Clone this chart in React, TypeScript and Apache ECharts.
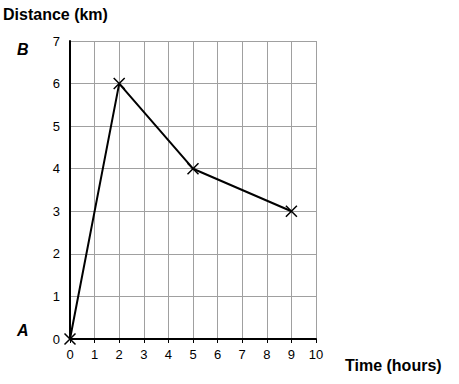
import React, { useEffect, useRef } from "react";
import * as echarts from "echarts";

const timeHours = [0, 2, 5, 9];
const distanceKm = [0, 6, 4, 3];
const xTicks = [0, 1, 2, 3, 4, 5, 6, 7, 8, 9, 10];
const yTicks = [0, 1, 2, 3, 4, 5, 6, 7];

export default function App() {
  const ref = useRef<HTMLDivElement>(null);
  useEffect(() => {
    if (!ref.current) return;
    const chart = echarts.init(ref.current, null, { renderer: "svg" });
    const font = "'Liberation Sans', Arial, sans-serif";
    chart.setOption({
      animation: false,
      backgroundColor: "#ffffff",
      grid: { left: 70, top: 41, right: 143, bottom: 45, containLabel: false },
      xAxis: {
        type: "value",
        min: 0,
        max: xTicks[xTicks.length - 1],
        interval: 1,
        axisLine: { show: true, lineStyle: { color: "#000", width: 2 } },
        axisTick: { show: true, length: 4, lineStyle: { color: "#000", width: 1 } },
        axisLabel: { color: "#000", fontSize: 13, fontFamily: font, margin: 9 },
        splitLine: { show: true, lineStyle: { color: "#a0a0a0", width: 1 } },
      },
      yAxis: {
        type: "value",
        min: 0,
        max: yTicks[yTicks.length - 1],
        interval: 1,
        axisLine: { show: true, lineStyle: { color: "#000", width: 2 } },
        axisTick: { show: false },
        axisLabel: { color: "#000", fontSize: 13, fontFamily: font, margin: 10 },
        splitLine: { show: true, lineStyle: { color: "#a0a0a0", width: 1 } },
      },
      graphic: [
        { type: "text", left: 3, top: 6, style: { text: "Distance (km)", font: `bold 16px ${font}`, fill: "#000" } },
        { type: "text", left: 17, top: 41, style: { text: "B", font: `italic bold 16px ${font}`, fill: "#000" } },
        { type: "text", left: 17, top: 322, style: { text: "A", font: `italic bold 16px ${font}`, fill: "#000" } },
        { type: "text", left: 345, top: 357, style: { text: "Time (hours)", font: `bold 16px ${font}`, fill: "#000" } },
      ],
      series: [
        {
          type: "line",
          data: timeHours.map((t, i) => [t, distanceKm[i]]),
          lineStyle: { color: "#000", width: 2 },
          itemStyle: { color: "#000", borderColor: "#000", borderWidth: 1.5 },
          symbol: "path://M0,0L10,10M10,0L0,10",
          symbolSize: 11,
          showSymbol: true,
          clip: false,
          z: 5,
        },
      ],
    });
    return () => chart.dispose();
  }, []);
  return <div ref={ref} style={{ position: "absolute", left: 0, top: 0, width: 459, height: 384 }} />;
}
